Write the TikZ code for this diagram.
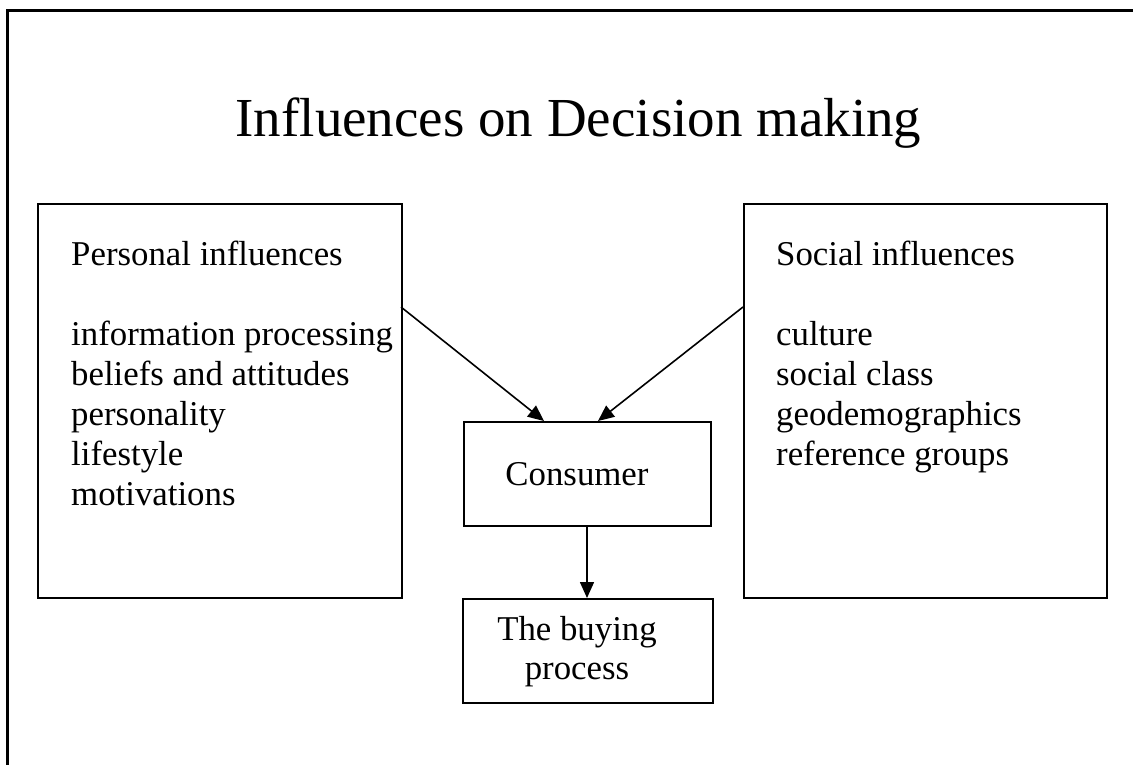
\documentclass[tikz,border=0pt]{standalone}
\usepackage{fontspec}
\setmainfont{Liberation Serif}
\usetikzlibrary{arrows.meta}
\tikzset{
  boxnode/.style={draw=black, line width=1.7pt, rectangle, inner sep=0pt, anchor=north west},
  bodytext/.style={inner sep=0pt, align=left, font=\fontsize{34.8}{40}\selectfont},
  centertext/.style={inner sep=0pt, align=center, font=\fontsize{34.8}{39}\selectfont},
  arrowline/.style={line width=1.6pt, -{Triangle[length=16pt,width=14pt]}}
}
\begin{document}
\begin{tikzpicture}[x=1pt,y=-1pt]
\useasboundingbox (0,0) rectangle (1133,765);
\fill[white] (0,0) rectangle (1133,765);
% outer frame (only left and top edges visible)
\draw[line width=3pt] (7.5,765) -- (7.5,11) -- (1133,11);
% title
\node[inner sep=0pt, anchor=base, font=\fontsize{55}{60}\selectfont] (title) at (578.5,137) {Influences on Decision making};
% boxes
\node[boxnode, minimum width=364pt, minimum height=394pt] (pers) at (37,203) {};
\node[boxnode, minimum width=363pt, minimum height=394pt] (soc) at (743,203) {};
\node[boxnode, minimum width=247pt, minimum height=104pt] (cons) at (463,421) {};
\node[boxnode, minimum width=250pt, minimum height=104pt] (buy) at (462,598) {};
% texts (base anchor = baseline of last line)
\node[bodytext, anchor=base west] (perstext) at (71,505) {Personal influences\\[40pt]information processing\\beliefs and attitudes\\personality\\lifestyle\\motivations};
\node[bodytext, anchor=base west] (soctext) at (776,465) {Social influences\\[40pt]culture\\social class\\geodemographics\\reference groups};
\node[centertext, anchor=base] (constext) at (577,485) {Consumer};
\node[centertext, anchor=base] (buytext) at (577,679) {The buying\\process};
% connector end points
\coordinate (a1s) at (401,307);
\coordinate (a1e) at (544,421);
\coordinate (a2s) at (743,307);
\coordinate (a2e) at (598,421);
\coordinate (a3s) at (587,525);
\coordinate (a3e) at (587,598);
\draw[arrowline] (a1s) -- (a1e);
\draw[arrowline] (a2s) -- (a2e);
\draw[arrowline] (a3s) -- (a3e);
\end{tikzpicture}
\end{document}
